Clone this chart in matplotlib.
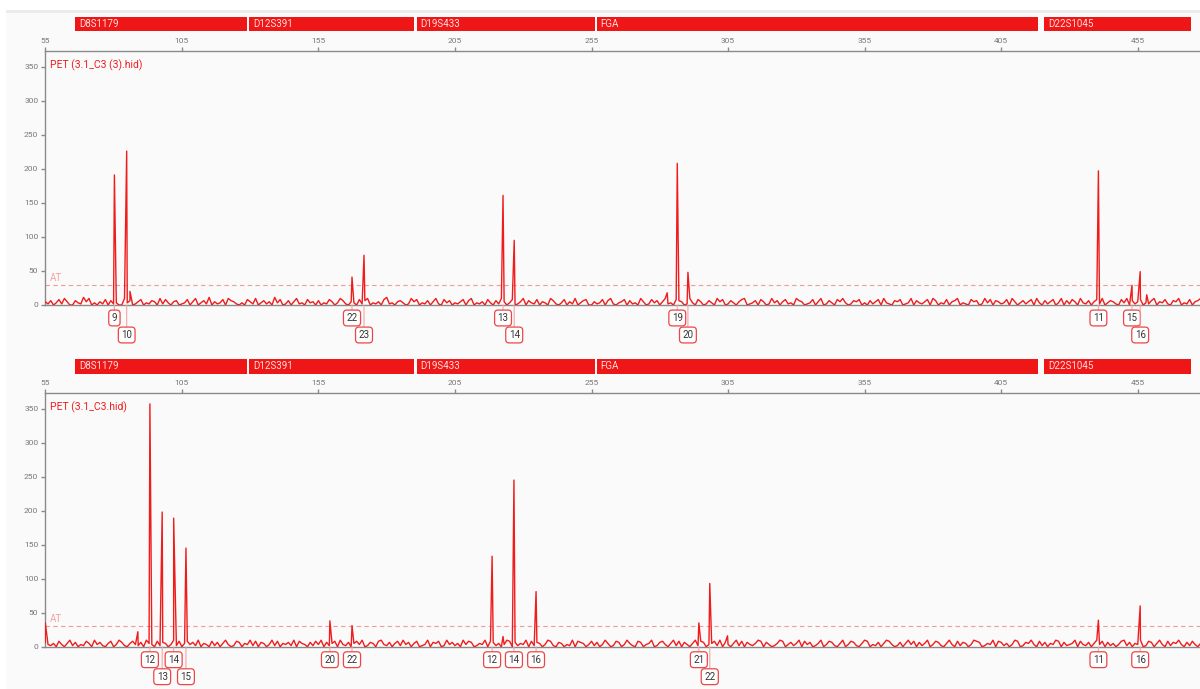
import numpy as np
import matplotlib.pyplot as plt
from matplotlib.patches import Rectangle
import matplotlib.transforms as mtransforms

plt.rcParams['font.family'] = ['Roboto', 'DejaVu Sans']

# loci bins (bp)
markers = ['D8S1179', 'D12S391', 'D19S433', 'FGA', 'D22S1045']
marker_start = [65.9, 129.5, 191.0, 256.9, 420.8]
marker_end = [128.8, 189.9, 256.1, 418.6, 474.6]

# sample 1: PET (3.1_C3 (3).hid)
top_name = 'PET (3.1_C3 (3).hid)'
top_pos = [80.3, 84.8, 167.3, 171.7, 222.6, 226.7, 286.4, 290.3, 440.6, 452.9, 455.9]
top_rfu = [191, 226, 41, 73, 161, 95, 208, 48, 197, 29, 49]
top_allele = ['9', '10', '22', '23', '13', '14', '19', '20', '11', '15', '16']
top_row = [0, 1, 0, 1, 0, 1, 0, 1, 0, 0, 1]
top_minor_pos = [86.0, 282.7, 458.3]
top_minor_rfu = [20, 18, 15]
# baseline noise, one digit per bp from 55 bp (x1.6 RFU)
top_noise = ("31402516300421736020315041200624013502143061520340"
             "12503602417031250643102053160241307250140361205230"
             "40215302641032051460213057120342016350214036105240"
             "21350460213052041630250136042150320641025031602450"
             "03125046102350412063015240361205430162053014206350"
             "14203560124053016240351206430125036014205362014350"
             "20413506210435012604213506402150346021053401625043"
             "12506302413506204135026041530621403516024310526041"
             "35021460325104360215034612053")

# sample 2: PET (3.1_C3.hid)
bot_name = 'PET (3.1_C3.hid)'
bot_pos = [93.3, 97.8, 102.0, 106.5, 159.2, 167.3, 218.6, 226.6, 234.7, 294.3, 298.3, 440.6, 455.9]
bot_rfu = [357, 198, 189, 145, 38, 31, 133, 245, 81, 35, 93, 39, 60]
bot_allele = ['12', '13', '14', '15', '20', '22', '12', '14', '16', '21', '22', '11', '16']
bot_row = [0, 1, 0, 1, 0, 0, 0, 0, 0, 0, 1, 0, 0]
bot_minor_pos = [55.0, 88.9, 222.6, 304.8]
bot_minor_rfu = [35, 22, 15, 16]
bot_noise = ("42130520361402153062410350264103521406320514302615"
             "03524160320514036201540326150430261503241605320415"
             "26041350621403526014305621403516240350126043501624"
             "13062540132605413026504132605143026510430216054302"
             "51402630154026310540236014520361504203615402351604"
             "20361504213650420136502413605240136025410360254103"
             "65021403652014036250413602541036205143026540132605"
             "41302650143620514032650412360521403625041302561403"
             "260154036205143620415203614052")

AT = 30
RED = '#f01c1c'

fig = plt.figure(figsize=(12, 6.89), dpi=100)
fig.patches.append(Rectangle((6 / 1200, 0), 1, 1 - 13 / 689, transform=fig.transFigure,
                             facecolor='#fafafa', edgecolor='none', zorder=-5))
fig.patches.append(Rectangle((6 / 1200, 1 - 13 / 689), 1, 3 / 689, transform=fig.transFigure,
                             facecolor='#ececec', edgecolor='none', zorder=-5))


def panel(rect, name, pos, rfu, allele, row, mpos, mrfu, noise, bar_y):
    ax = fig.add_axes(rect)
    ax.set_facecolor('none')
    xn = 55 + np.arange(len(noise))
    yn = np.array([int(c) for c in noise]) * 1.6
    x = np.concatenate([xn, pos, mpos])
    y = np.concatenate([yn, rfu, mrfu])
    order = np.argsort(x, kind='stable')
    ax.plot(x[order], y[order], color=RED, lw=1.0, zorder=3)

    ax.set_xlim(55, 477.8)
    ax.set_ylim(0, 373)
    ax.axhline(AT, color='#f59a9a', lw=0.8, ls=(0, (4, 3)), zorder=2)
    ax.text(56.5, AT + 3, 'AT', color='#f5a0a0', fontsize=7, va='bottom', ha='left')
    ax.text(0.004, 0.965, name, transform=ax.transAxes, color=RED, fontsize=7.5,
            va='top', ha='left')

    ax.spines['right'].set_visible(False)
    for s in ['left', 'top', 'bottom']:
        ax.spines[s].set_color('#8a8a8a')
        ax.spines[s].set_linewidth(1)
    ax.xaxis.tick_top()
    ax.set_xticks(np.arange(55, 460, 50))
    ax.set_yticks(np.arange(0, 351, 50))
    ax.tick_params(axis='both', colors='#8a8a8a', labelcolor='#777777', labelsize=6,
                   length=3, width=1, pad=2)

    # allele call labels
    for p, lab, r in zip(pos, allele, row):
        off = -13 if r == 0 else -30
        ax.annotate(lab, xy=(p, 0), xytext=(0, off), textcoords='offset pixels',
                    ha='center', va='center', fontsize=7, color='#333333',
                    annotation_clip=False,
                    bbox=dict(boxstyle='round,pad=0.3,rounding_size=0.35', fc='white',
                              ec='#ec4646', lw=0.9),
                    arrowprops=dict(arrowstyle='-', color='#f5a5a5', lw=0.8,
                                    shrinkA=0, shrinkB=0))

    # locus bars above the axis
    trans = mtransforms.blended_transform_factory(ax.transData, ax.transAxes)
    for m, a, b in zip(markers, marker_start, marker_end):
        ax.add_patch(Rectangle((a, bar_y[0]), b - a, bar_y[1] - bar_y[0], transform=trans,
                               facecolor='#ee1616', edgecolor='none', clip_on=False))
        ax.annotate(m, xy=(a, (bar_y[0] + bar_y[1]) / 2), xycoords=trans,
                    xytext=(4, 0), textcoords='offset pixels', color='#ffe0e0',
                    fontsize=7, va='center', ha='left', annotation_clip=False)
    return ax


panel([45.3 / 1200, 1 - 305 / 689, 0.96225, 254 / 689], top_name, top_pos, top_rfu,
      top_allele, top_row, top_minor_pos, top_minor_rfu, top_noise, (1.0787, 1.134))
panel([45.3 / 1200, 1 - 646.7 / 689, 0.96225, 253.7 / 689], bot_name, bot_pos, bot_rfu,
      bot_allele, bot_row, bot_minor_pos, bot_minor_rfu, bot_noise, (1.075, 1.134))

fig.savefig('out.png', dpi=100)
